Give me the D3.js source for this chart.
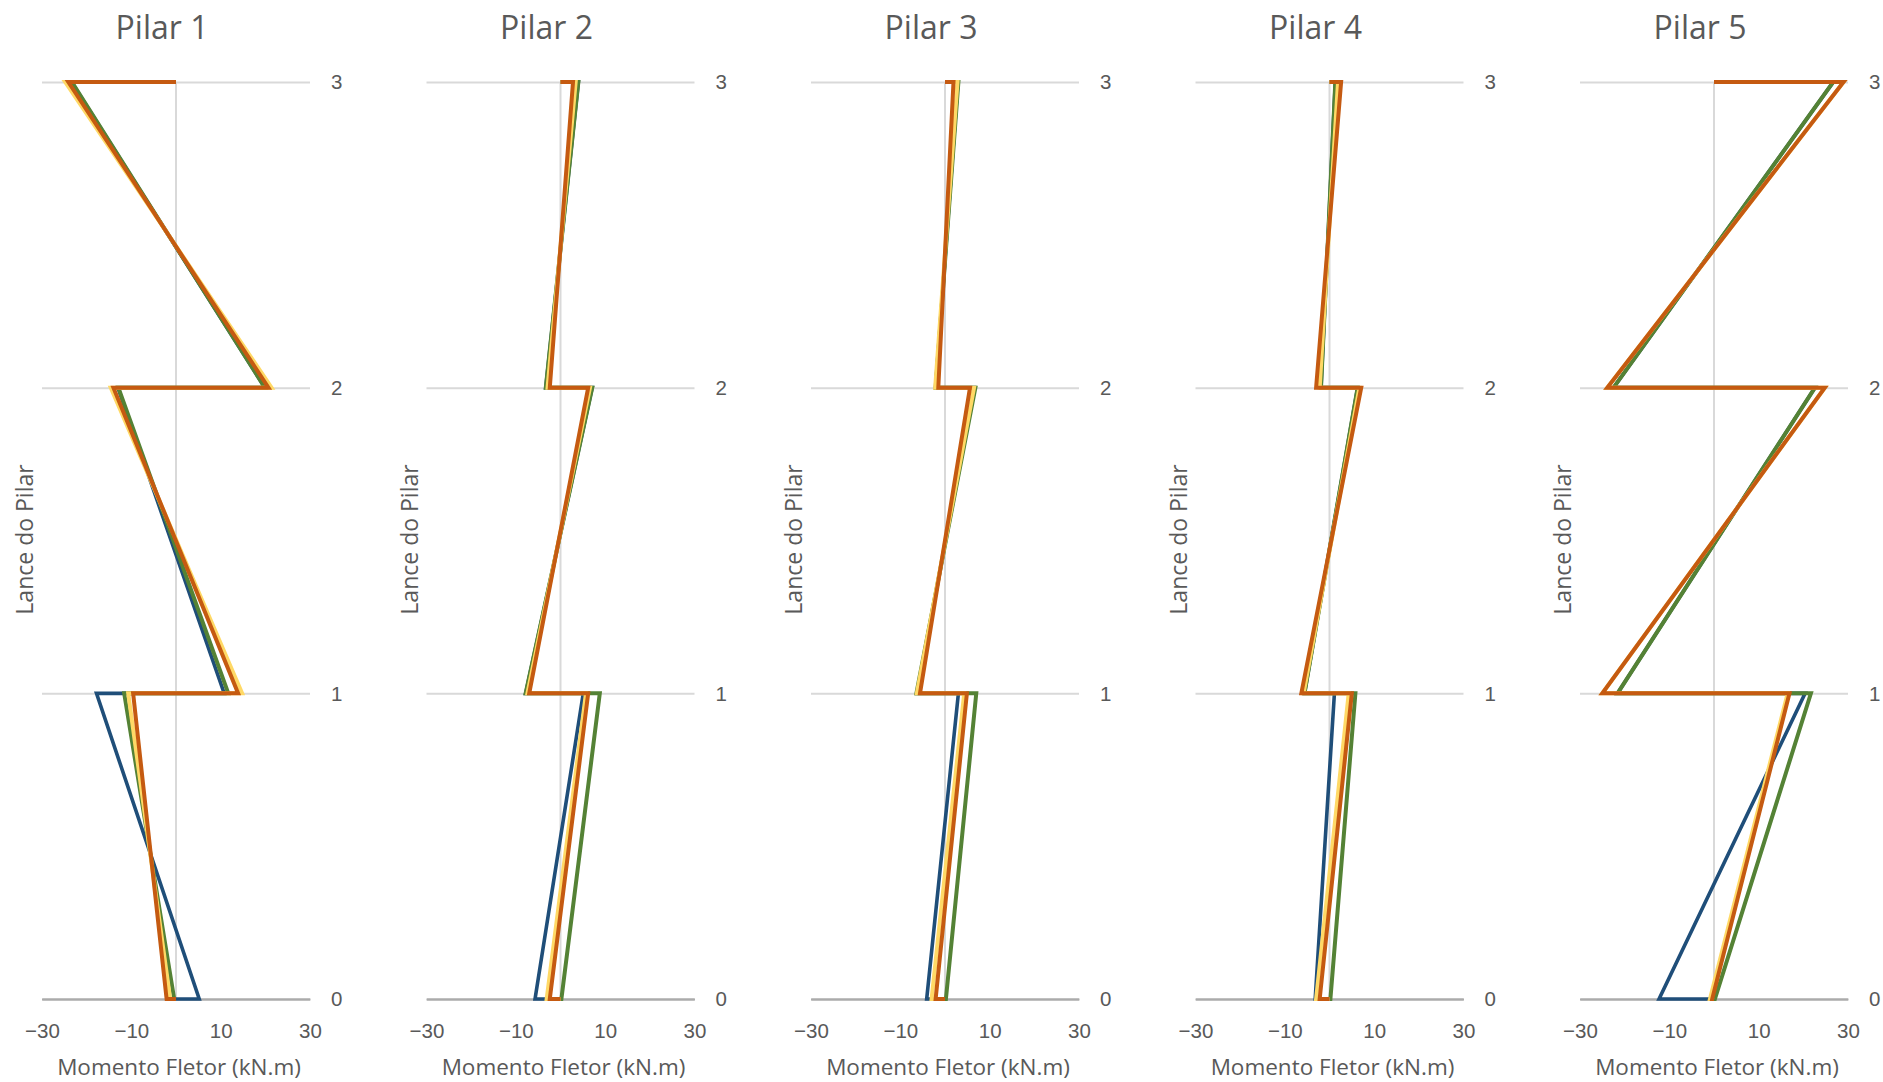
<!DOCTYPE html>
<html>
<head>
<meta charset="utf-8">
<script src="https://cdn.jsdelivr.net/npm/d3@7"></script>
<style>
  html, body { margin: 0; padding: 0; background: #fff; }
  svg { display: block; font-family: "Open Sans", "Noto Sans", sans-serif; }
</style>
</head>
<body>
<svg id="chart" width="1883" height="1082"></svg>
<script>
// Bending moment diagrams along the three lifts of each column.
const pilares = ["Pilar 1", "Pilar 2", "Pilar 3", "Pilar 4", "Pilar 5"];
const lances = [0, 1, 2, 3];
const ticksMomento = [-30, -10, 10, 30];

// Moments (kN.m) per column: [base L1, top L1, base L2, top L2, base L3, top L3]
const momentosAzul = [
  [5.2, -17.8, 10.8, -13.0, 19.9, -23.4],
  [-5.7, 5.1, -7.8, 7.1, -3.3, 4.0],
  [-4.1, 3.0, -6.3, 6.6, -2.1, 2.9],
  [-3.2, 1.1, -5.6, 6.3, -1.9, 1.3],
  [-12.3, 20.4, -21.6, 22.6, -22.5, 26.7]
];
const momentosVerde = [
  [-0.4, -11.6, 11.7, -12.9, 19.9, -23.3],
  [0.2, 8.8, -7.8, 7.1, -3.3, 4.0],
  [0.2, 7.0, -6.4, 6.8, -2.1, 3.0],
  [0.2, 5.8, -5.6, 6.3, -1.9, 1.3],
  [0.2, 21.7, -21.6, 22.6, -22.5, 26.7]
];
const momentosAmarelo = [
  [-1.3, -10.7, 14.8, -14.6, 21.4, -24.8],
  [-3.1, 5.7, -7.4, 6.6, -2.9, 3.4],
  [-3.0, 4.3, -6.3, 6.5, -2.2, 2.8],
  [-3.0, 4.3, -5.8, 6.7, -2.2, 1.9],
  [-0.9, 16.5, -25.0, 24.8, -23.9, 29.0]
];
const momentosLaranja = [
  [-2.1, -9.6, 13.9, -14.0, 20.7, -24.1],
  [-2.4, 6.2, -7.0, 6.2, -2.4, 2.8],
  [-2.1, 4.9, -5.6, 5.6, -1.5, 1.9],
  [-2.2, 5.0, -6.3, 7.1, -3.0, 2.6],
  [-0.4, 16.9, -25.0, 24.8, -23.9, 29.0]
];

const series = [
  { valores: momentosAzul, cor: "#1F4E79", largura: 3.6 },
  { valores: momentosVerde, cor: "#548235", largura: 4 },
  { valores: momentosAmarelo, cor: "#FFD966", largura: 4 },
  { valores: momentosLaranja, cor: "#C55A11", largura: 4 }
];

// Layout
const plotW = 268, plotTop = 82, plotBottom = 999;
const firstLeft = 42, panelStep = 384.5;
const textColor = "#595959";

const svg = d3.select("#chart");

const x = d3.scaleLinear().domain([-30, 30]).range([0, plotW]);
const y = d3.scaleLinear().domain([0, 3]).range([plotBottom - plotTop, 0]);

// Points of the diagram: starts and ends on the axis, steps at each floor
function pontos(m) {
  return [[0, 0], [m[0], 0], [m[1], 1], [m[2], 1], [m[3], 2], [m[4], 2], [m[5], 3], [0, 3]];
}

const linha = d3.line().x(d => x(d[0])).y(d => y(d[1]));

pilares.forEach((nome, i) => {
  const left = firstLeft + i * panelStep;
  const g = svg.append("g").attr("transform", `translate(${left},${plotTop})`);

  // Horizontal gridlines + right-side level labels
  const eixoY = g.append("g")
    .attr("transform", `translate(${plotW},0)`)
    .call(d3.axisRight(y).tickValues(lances).tickSize(-plotW).tickPadding(21).tickFormat(d3.format("d")));
  eixoY.select(".domain").remove();
  eixoY.selectAll(".tick line")
    .attr("stroke", d => d === 0 ? "#ABABAB" : "#D9D9D9")
    .attr("stroke-width", 2);
  eixoY.selectAll(".tick text")
    .attr("fill", textColor)
    .attr("font-size", 20.5)
    .attr("dy", "0.34em");

  // Vertical line at zero moment
  g.append("line")
    .attr("x1", x(0)).attr("x2", x(0))
    .attr("y1", y(3)).attr("y2", y(0))
    .attr("stroke", "#D9D9D9").attr("stroke-width", 2);

  // Moment axis
  const eixoX = g.append("g")
    .attr("transform", `translate(0,${y(0)})`)
    .call(d3.axisBottom(x).tickValues(ticksMomento).tickSize(0).tickPadding(24).tickFormat(d3.format("d")));
  eixoX.select(".domain").attr("stroke", "#ABABAB").attr("stroke-width", 2);
  eixoX.selectAll(".tick text")
    .attr("fill", textColor)
    .attr("font-size", 20.5);

  // Diagrams
  series.forEach(s => {
    g.append("path")
      .datum(pontos(s.valores[i]))
      .attr("d", linha)
      .attr("fill", "none")
      .attr("stroke", s.cor)
      .attr("stroke-width", s.largura)
      .attr("stroke-linejoin", "miter")
      .attr("stroke-miterlimit", 10);
  });

  // Titles
  svg.append("text")
    .attr("x", left + 120).attr("y", 39)
    .attr("text-anchor", "middle")
    .attr("font-size", 32)
    .attr("fill", textColor)
    .text(nome);

  svg.append("text")
    .attr("x", left + 137).attr("y", 1075)
    .attr("text-anchor", "middle")
    .attr("font-size", 22.5)
    .attr("fill", textColor)
    .text("Momento Fletor (kN.m)");

  svg.append("text")
    .attr("transform", `translate(${left - 9},${(plotTop + plotBottom) / 2 - 1}) rotate(-90)`)
    .attr("text-anchor", "middle")
    .attr("font-size", 23)
    .attr("fill", textColor)
    .text("Lance do Pilar");
});
</script>
</body>
</html>
